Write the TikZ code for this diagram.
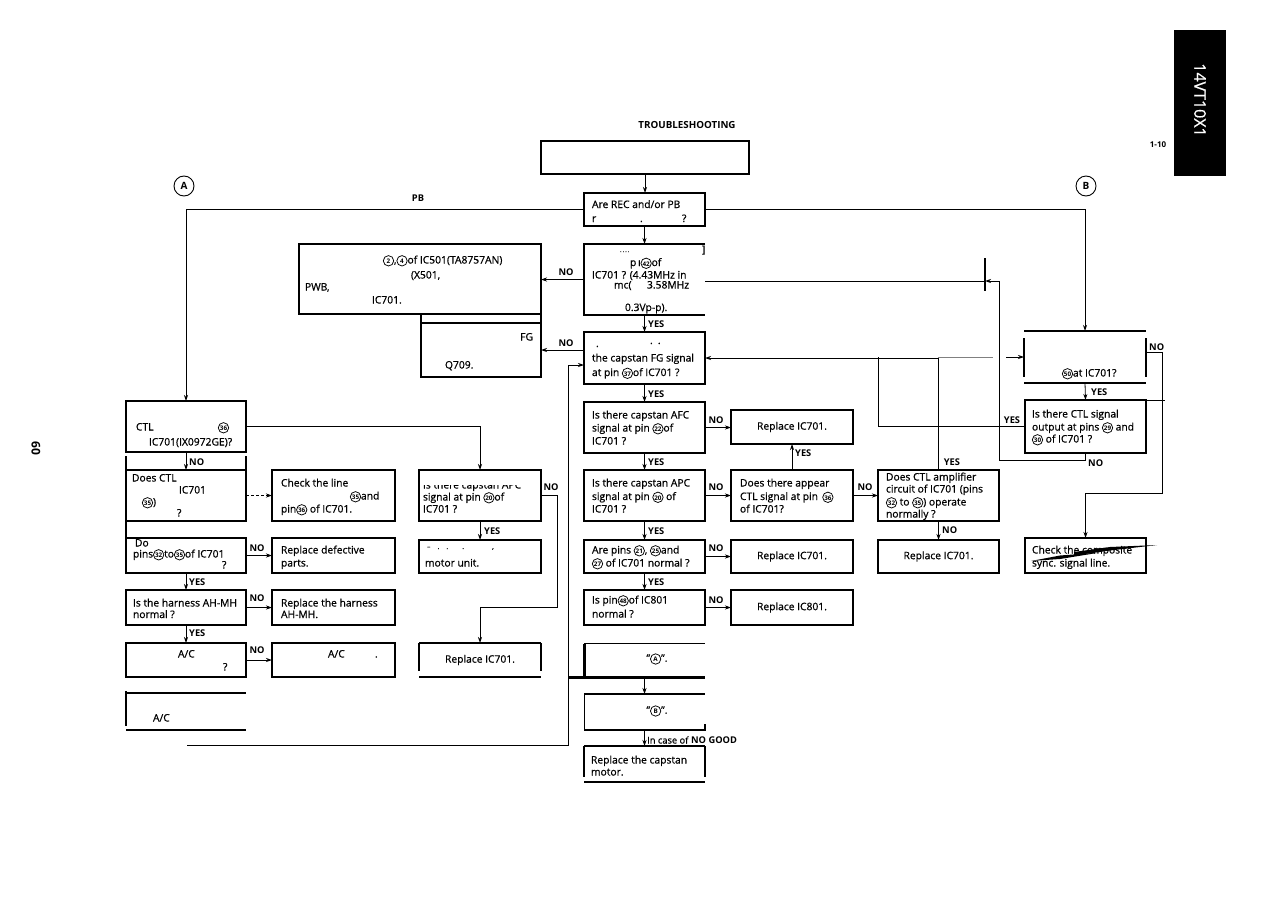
\documentclass[tikz,border=0pt]{standalone}
\usepackage{fontspec}
\setmainfont{Open Sans}[UprightFeatures={RawFeature={embolden=0.7}}]
\usetikzlibrary{arrows.meta}
\newcommand\ftxt{\fontsize{10.3}{12}\selectfont}
\newcommand\cn[1]{\makebox[11pt]{\makebox[0pt]{\tikz[baseline=-2.7pt]\draw[line width=0.75pt] (0,0) circle[radius=5.2pt];}\makebox[0pt]{\fontsize{6.3}{6.3}\selectfont\bfseries #1}}}
\tikzset{
  bx/.style={draw,line width=1.1pt,inner sep=0pt,outer sep=0pt},
  pbx/.style={inner sep=0pt,outer sep=0pt},
  bl/.style={line width=1.1pt},
  thk/.style={line width=2.2pt},
  tx/.style={anchor=base west,inner sep=0pt,outer sep=0pt,font=\ftxt},
  tc/.style={inner sep=0pt,outer sep=0pt,font=\ftxt},
  lab/.style={inner sep=0pt,font=\fontsize{9.3}{10}\selectfont\bfseries},
  con/.style={line width=0.8pt},
  arr/.style={con,-{Stealth[length=6pt,width=4pt]}},
}
\begin{document}
\begin{tikzpicture}[x=1pt,y=-1pt]
\useasboundingbox (0,0) rectangle (1268,899);

% ---------- margins ----------
\fill (1174,30) rectangle (1226,176);
\node[rotate=-90,text=white,font=\fontsize{16}{16}\selectfont,inner sep=0pt] (tab) at (1200,100) {14VT10X1};
\node[font=\bfseries\fontsize{8}{8}\selectfont] (pg) at (1158,145) {1-10};
\node[rotate=-90,font=\bfseries\fontsize{12}{12}\selectfont] (pn) at (36,448) {60};
\node[font=\fontsize{9.8}{9}\selectfont\bfseries] (title) at (687,125) {TROUBLESHOOTING};
\node[circle,draw,line width=0.9pt,minimum size=20pt,inner sep=0pt,font=\bfseries\fontsize{10}{10}\selectfont] (cirA) at (184,186) {A};
\node[circle,draw,line width=0.9pt,minimum size=20pt,inner sep=0pt,font=\bfseries\fontsize{10}{10}\selectfont] (cirB) at (1086,186) {B};

% ---------- centre column ----------
\node[bx,minimum width=208pt,minimum height=33pt] (top) at (645,157.5) {};
\node[bx,minimum width=121pt,minimum height=33pt] (rec) at (644.5,209.5) {};
\node[tx] (rec1) at (592,208) {Are REC and/or PB};
\node[tx] (rec2) at (592,222) {r};
\node[tx] (rec3) at (640,222) {.};
\node[tx] (rec4) at (682,222) {?};
\node[lab] (pbl) at (418,198) {PB};

\node[pbx,minimum width=121pt,minimum height=71pt] (osc) at (644.5,279.5) {};
\draw[bl] (osc.north east) -- (osc.north west) -- (osc.south west) -- (osc.south east);
\node[tx] (osc0) at (620,252) {\fontsize{6}{6}\selectfont .\,.\,.\,.};
\node[tx] (osc1) at (630,266) {p\,ı\cn{42}of};
\node[tx] (osc2) at (592,278.5) {IC701 ? (4.43MHz in};
\node[tx] (osc3) at (614,288.5) {mc(};
\node[tx] (osc4) at (647,288.5) {3.58MHz};
\node[tx] (osc5) at (625,311) {0.3Vp-p).};
\node[tx] (osc6) at (702,253) {]};

\node[bx,minimum width=121pt,minimum height=52pt] (fg) at (644.5,358) {};
\node[tx] (fg0) at (596,347) {.};
\node[tx] (fg0b) at (650,344) {.\,\,\,.};
\node[tx] (fg1) at (592,361.5) {the capstan FG signal};
\node[tx] (fg2) at (592,376) {at pin \cn{37}of IC701 ?};

\node[bx,minimum width=121pt,minimum height=51pt] (afc) at (644.5,427.5) {};
\node[tx] (afc1) at (592,418.5) {Is there capstan AFC};
\node[tx] (afc2) at (592,431.5) {signal at pin \cn{22}of};
\node[tx] (afc3) at (592,444.5) {IC701 ?};

\node[bx,minimum width=121pt,minimum height=51pt] (apc) at (644.5,495.5) {};
\node[tx] (apc1) at (592,486.5) {Is there capstan APC};
\node[tx] (apc2t) at (592,500) {signal at pin \cn{20} of};
\node[tx] (apc3) at (592,512.5) {IC701 ?};

\node[bx,minimum width=121pt,minimum height=33pt] (pins) at (644.5,556.5) {};
\node[tx] (pins1) at (592,553.5) {Are pins \cn{21}, \cn{25}and};
\node[tx] (pins2) at (592,566.5) {\cn{27} of IC701 normal ?};

\node[bx,minimum width=121pt,minimum height=35pt] (ic801) at (644.5,607.5) {};
\node[tx] (ic8011) at (592,603.5) {Is pin\cn{48}of IC801};
\node[tx] (ic8012) at (592,617.5) {normal ?};

\node[pbx,minimum width=121pt,minimum height=34pt] (boxA) at (644.5,660.5) {};
\draw[bl] (boxA.north west) -- (boxA.north east);
\draw[line width=3pt] (boxA.north west) -- (boxA.south west);
\node[tc] (boxAt) at (657,659) {"\cn{A}".};

\node[pbx,minimum width=121pt,minimum height=36pt] (boxB) at (644.5,712) {};
\draw[bl] (boxB.north west) -- (boxB.north east);
\draw[line width=0.7pt] (boxB.north west) -- (boxB.south west);
\draw[bl] (boxB.south west) -- (boxB.south east) -- ++(0,-6);
\node[tc] (boxBt) at (657,711) {"\cn{B}".};

\node[pbx,minimum width=121pt,minimum height=36pt] (motor) at (644.5,764) {};
\draw[bl] (motor.north west) -- (motor.north east);
\draw[bl] (motor.north west) -- ++(0,31);
\draw[bl] (motor.north east) -- ++(0,31);
\draw[bl] (motor.south west) -- (motor.south east);
\node[tx] (mot1) at (591,763.5) {Replace the capstan};
\node[tx] (mot2) at (591,775.5) {motor.};

% ---------- column 2 ----------
\node[bx,minimum width=122pt,minimum height=34pt] (r1) at (792,427) {};
\node[tc] (r1t) at (792,427) {Replace IC701.};
\node[bx,minimum width=122pt,minimum height=51pt] (appear) at (792,495.5) {};
\node[tx] (app1) at (740,486.5) {Does there appear};
\node[tx] (app2) at (740,500) {CTL signal at pin \,\cn{36}};
\node[tx] (app3) at (740,512.5) {of IC701?};
\node[bx,minimum width=122pt,minimum height=33pt] (r2) at (792,556.5) {};
\node[tc] (r2t) at (792,556.5) {Replace IC701.};
\node[bx,minimum width=122pt,minimum height=35pt] (r801) at (792,607.5) {};
\node[tc] (r801t) at (792,607.5) {Replace IC801.};

% ---------- column 3 ----------
\node[bx,minimum width=121pt,minimum height=51pt] (amp) at (938.5,495.5) {};
\node[tx] (amp1) at (886,480.5) {Does CTL amplifier};
\node[tx] (amp2) at (886,492.5) {circuit of IC701 (pins};
\node[tx] (amp3) at (886,505.5) {\cn{32} to \cn{35}) operate};
\node[tx] (amp4) at (886,517.5) {normally ?};
\node[bx,minimum width=121pt,minimum height=33pt] (r3) at (938.5,556.5) {};
\node[tc] (r3t) at (938.5,556.5) {Replace IC701.};

% ---------- column 4 ----------
\node[pbx,minimum width=122pt,minimum height=52pt] (p50) at (1085,357) {};
\draw[bl] (p50.north west) -- (p50.north east);
\draw[bl] (p50.south west) -- (p50.south east);
\draw[bl] ([yshift=-7pt]p50.north west) -- ([yshift=6pt]p50.south west);
\draw[bl] ([yshift=-7pt]p50.north east) -- ([yshift=6pt]p50.south east);
\node[tx] (p50t) at (1062,376.5) {\cn{50}at IC701?};
\node[bx,minimum width=121pt,minimum height=53pt] (ctlout) at (1085.5,426.5) {};
\node[tx] (co1) at (1032,417.5) {Is there CTL signal};
\node[tx] (co2) at (1032,430.5) {output at pins \cn{29} and};
\node[tx] (co3) at (1032,442.5) {\cn{30} of IC701 ?};
\node[bx,minimum width=121pt,minimum height=35pt] (sync) at (1085.5,555.5) {};
\node[tx] (sy1) at (1032,553.5) {Check the composite};
\node[tx] (sy2) at (1032,566.5) {sync. signal line.};
\fill (1074,552) -- (1110,547) -- (1157,545) -- (1110,550.5) -- (1074,555.5) -- cycle;
\fill (1031,561) -- (1060,555.5) -- (1100,552.5) -- (1060,559) -- cycle;

% ---------- left column ----------
\node[bx,minimum width=120pt,minimum height=51pt] (ctl) at (186,426.5) {};
\node[tx] (ctl1) at (136,430.5) {CTL};
\node[tx] (ctl2) at (218,430.5) {\cn{36}};
\node[tx] (ctl3) at (149,445.5) {IC701(IX0972GE)?};

\node[bx,minimum width=120pt,minimum height=51pt] (doesctl) at (186,495.5) {};
\node[tx] (dc1) at (132,481.5) {Does CTL};
\node[tx] (dc2) at (179,493.5) {IC701};
\node[tx] (dc3) at (142,505.5) {\cn{35})};
\node[tx] (dc4) at (177,516.5) {?};

\node[bx,minimum width=120pt,minimum height=35pt] (dopins) at (186,555.5) {};
\draw[bl] ([yshift=14pt]doesctl.north west) -- (dopins.south west);
\draw[bl] ([yshift=14pt]doesctl.north east) -- (doesctl.north east);
\node[tx] (dp1) at (135,546.5) {Do};
\node[tx] (dp2) at (133,557.5) {pins\cn{32}to\cn{35}of IC701};
\node[tx] (dp3) at (222,568.5) {?};

\node[bx,minimum width=120pt,minimum height=35pt] (harness) at (186,607.5) {};
\node[tx] (ha1) at (133,606.5) {Is the harness AH-MH};
\node[tx] (ha2) at (133,618) {normal ?};

\node[bx,minimum width=120pt,minimum height=34pt] (ac) at (186,660) {};
\draw[thk] (ac.south west) -- (ac.south east);
\node[tx] (ac1) at (178,657.5) {A/C};
\node[tx] (ac2t) at (223,670.5) {?};

\node[pbx,minimum width=120pt,minimum height=37pt] (acx) at (186,711.5) {};
\draw[bl] (acx.north west) -- (acx.north east);
\draw[bl] ([yshift=2pt]acx.north west) -- ([yshift=4pt]acx.south west);
\draw[bl] (acx.south west) -- (acx.south east);
\node[tx] (acx1) at (153,721.5) {A/C};

% ---------- left column 2 ----------
\node[bx,minimum width=123pt,minimum height=51pt] (chk) at (333.5,495.5) {};
\node[tx] (chk1) at (281,486.5) {Check the line};
\node[tx] (chk2) at (350,499.5) {\cn{35}and};
\node[tx] (chk3) at (281,512.5) {pin\cn{36} of IC701.};
\node[bx,minimum width=123pt,minimum height=35pt] (defect) at (333.5,555.5) {};
\node[tx] (de1) at (281,553.5) {Replace defective};
\node[tx] (de2) at (281,566.5) {parts.};
\node[bx,minimum width=123pt,minimum height=35pt] (rharn) at (333.5,607.5) {};
\node[tx] (rh1) at (281,606.5) {Replace the harness};
\node[tx] (rh2) at (281,618) {AH-MH.};
\node[bx,minimum width=123pt,minimum height=34pt] (rac) at (333.5,660) {};
\draw[thk] (rac.south west) -- (rac.south east);
\node[tx] (rac1) at (328,657.5) {A/C};
\node[tx] (rac2) at (375,657.5) {.};

% ---------- left column 3 ----------
\node[pbx,minimum width=242pt,minimum height=70pt] (ic501) at (420,279) {};
\draw[bl] (ic501.north west) rectangle (ic501.south east);
\node[tx] (ic1) at (383,263.5) {\cn{2},\cn{4}of IC501(TA8757AN)};
\node[tx] (ic2) at (411,278.5) {(X501,};
\node[tx] (ic3) at (305,290.5) {PWB,};
\node[tx] (ic4) at (372,303.5) {IC701.};

\node[bx,minimum width=120pt,minimum height=54pt] (fgbox) at (481,350) {};
\draw[bl] (fgbox.north west) -- ++(0,-9);
\draw[bl] (fgbox.north east) -- ++(0,-9);
\node[tx,anchor=base east] (fgb1) at (533,340.5) {FG};
\node[tx] (fgb2) at (445,368.5) {Q709.};

\node[bx,minimum width=122pt,minimum height=51pt] (apc2) at (480,495.5) {};
\begin{scope}
\clip (420,485.5) rectangle (540,492);
\node[tx] (ap21) at (423,488.5) {Is there capstan APC};
\end{scope}
\node[tx] (ap22) at (423,500.5) {signal at pin \cn{20}of};
\node[tx] (ap23) at (423,512.5) {IC701 ?};

\node[bx,minimum width=122pt,minimum height=33pt] (munit) at (480,556.5) {};
\node[tx] (mu0) at (427,549) {\fontsize{7}{7}\selectfont --\quad .\quad .\quad\quad .\qquad\qquad ,};
\node[tx] (mu1) at (425,566.5) {motor unit.};

\node[pbx,minimum width=122pt,minimum height=34pt] (r4) at (480,660) {};
\draw[bl] (r4.north west) -- (r4.north east);
\draw[bl] (r4.north west) -- ++(0,28);
\draw[bl] (r4.north east) -- ++(0,28);
\draw[thk] (r4.south west) -- (r4.south east);
\node[tc] (r4t) at (480,660) {Replace IC701.};

% ---------- coordinates ----------
\coordinate (cA) at (186,209.5);
\coordinate (tk) at (985,281);
\coordinate (tkT) at (985,258);
\coordinate (tkB) at (985,291);
\coordinate (nA) at (999,460);
\coordinate (nB) at (999,281);
\coordinate (yA) at (878,357);
\coordinate (g1) at (938,357);
\coordinate (g2) at (993,357);
\coordinate (g3) at (1006,357);
\coordinate (pn1) at (1162,352);
\coordinate (pn2) at (1162,493);
\coordinate (q2) at (557,607);
\coordinate (rt1) at (187,745);
\coordinate (rt2) at (568,745);

% ---------- connectors ----------
\draw[arr] (top.south) -- (top.south |- rec.north);
\draw[arr] (rec.west) -- (cA) -- (ctl.north);
\draw[arr] (rec.east) -| (p50.north);
\draw[arr] (rec.south) -- (osc.north);
\draw[arr] (osc.west) -- (osc.west -| ic501.east);
\node[lab] (l1) at (566,272) {NO};
\draw[arr] (osc.south) -- (fg.north);
\node[lab,anchor=west] (l2) at (648,324) {YES};
\draw[arr] ([yshift=8pt]fg.west) -- ([yshift=8pt]fg.west -| fgbox.east);
\node[lab] (l3) at (566,343) {NO};
\draw[arr] (fg.south) -- (afc.north);
\node[lab,anchor=west] (l4) at (648,394) {YES};
\draw[arr] (afc.east) -- (afc.east -| r1.west);
\node[lab] (l5) at (716,420) {NO};
\draw[arr] (afc.south) -- (apc.north);
\node[lab,anchor=west] (l6) at (648,462) {YES};
\draw[arr] (apc.east) -- (appear.west);
\node[lab] (l7) at (716,487) {NO};
\draw[arr] (appear.north) -- (r1.south);
\node[lab,anchor=west] (l8) at (795,453) {YES};
\draw[arr] (appear.east) -- (amp.west);
\node[lab] (l9) at (865,487) {NO};
\draw[arr] (amp.north) |- (fg.east);
\node[lab] (l10) at (952,462) {YES};
\draw[arr] (amp.south) -- (r3.north);
\node[lab,anchor=west] (l11) at (942,530) {NO};
\draw[arr] (apc.south) -- (pins.north);
\node[lab,anchor=west] (l12) at (648,531) {YES};
\draw[arr] (pins.east) -- (r2.west);
\node[lab] (l13) at (716,548) {NO};
\draw[arr] (pins.south) -- (ic801.north);
\node[lab,anchor=west] (l14) at (648,582) {YES};
\draw[arr] (ic801.east) -- (r801.west);
\node[lab] (l15) at (716,600) {NO};
\draw[thk] (rt2 |- boxA.south) -- (boxA.south east);
\draw[arr] (boxA.south) -- (boxB.north);
\draw[arr] (boxB.south) -- (motor.north);
\node[anchor=west,inner sep=0pt,font=\fontsize{9.3}{9}\selectfont] (l16) at (647,740) {In case of \textbf{NO GOOD}};

\draw[con] (osc.east |- tk) -- (tk);
\draw[bl] (tkT) -- (tkB);
\draw[arr] (ctlout.south) |- (nA) -- (nB) -- (tk);
\node[lab,anchor=west] (l17) at (1088,463) {NO};
\draw[con] (ctlout.west) -| (yA);
\node[lab] (l18) at (1012,420) {YES};
\draw[con,gray] (g1) -- (g2);
\draw[arr] (g3) -- (p50.west);
\draw[arr] (p50.south) -- (ctlout.north);
\node[lab,anchor=west] (l19) at (1091,392) {YES};
\draw[arr] ([yshift=5pt]p50.east) -- (pn1) -- (pn2) -| (sync.north);
\node[lab,anchor=west] (l20) at (1149,347) {NO};
\draw[con] (ctlout.north east) -- ++(19,0);

\draw[arr] (ctl.east) -| (apc2.north);
\draw[arr] (ctl.south) -- (doesctl.north);
\node[lab,anchor=west] (l21) at (189,462) {NO};
\draw[arr,densely dashed] (doesctl.east) -- (chk.west);
\draw[arr] (dopins.east) -- (defect.west);
\node[lab] (l22) at (257,548) {NO};
\draw[arr] (dopins.south) -- (harness.north);
\node[lab,anchor=west] (l23) at (189,582) {YES};
\draw[arr] (harness.east) -- (rharn.west);
\node[lab] (l24) at (257,598) {NO};
\draw[arr] (harness.south) -- (ac.north);
\node[lab,anchor=west] (l25) at (189,633) {YES};
\draw[arr] (ac.east) -- (rac.west);
\node[lab] (l26) at (257,650) {NO};
\draw[arr] (apc2.south) -- (munit.north);
\node[lab,anchor=west] (l27) at (484,531) {YES};
\draw[arr] (apc2.east) -| (q2) -| (r4.north);
\node[lab] (l28) at (551,487) {NO};
\draw[arr] (rt1) -- (rt2) |- ([yshift=-7pt]fg.west);
\end{tikzpicture}
\end{document}
